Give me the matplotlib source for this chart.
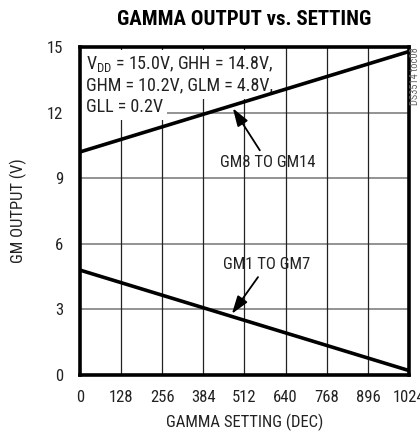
import matplotlib.pyplot as plt
from matplotlib import font_manager

# Gamma output vs setting
setting = [0, 1024]
gm8_to_gm14 = [10.2, 14.8]
gm1_to_gm7 = [4.8, 0.2]
xticks = [0, 128, 256, 384, 512, 640, 768, 896, 1024]
yticks = [0, 3, 6, 9, 12, 15]
cond_lines = ['V$_{\\mathregular{DD}}$ = 15.0V, GHH = 14.8V,',
              'GHM = 10.2V, GLM = 4.8V,',
              'GLL = 0.2V']

names = {f.name for f in font_manager.fontManager.ttflist}
prefs = ['Roboto Condensed', 'Archivo Narrow', 'PT Sans Narrow', 'Liberation Sans Narrow',
         'Fira Sans Condensed', 'IBM Plex Sans Condensed', 'Encode Sans Condensed',
         'Barlow Semi Condensed', 'Open Sans Condensed', 'DejaVu Sans']
fam = next(f for f in prefs if f in names or f == 'DejaVu Sans')
plt.rcParams['font.family'] = [fam, 'DejaVu Sans']
plt.rcParams['font.size'] = 12
plt.rcParams['mathtext.fontset'] = 'custom'
plt.rcParams['mathtext.rm'] = fam

fig = plt.figure(figsize=(4.2, 4.36), dpi=100)
ax = fig.add_axes([0.190, 0.140, 0.784, 0.752])

for y in yticks[1:-1]:
    ax.axhline(y, color='#808080', lw=1.2, zorder=1)
for x in xticks[1:-1]:
    ax.axvline(x, color='#222222', lw=0.9, zorder=1)

ax.plot(setting, gm8_to_gm14, color='black', lw=2.6, zorder=3)
ax.plot(setting, gm1_to_gm7, color='black', lw=2.6, zorder=3)

ax.set_xlim(0, 1024)
ax.set_ylim(0, 15)
ax.set_xticks(xticks)
ax.set_yticks(yticks)
ax.tick_params(axis='x', length=0, pad=11, colors='#222222')
ax.tick_params(axis='y', length=0, pad=12, colors='#222222')
for s in ax.spines.values():
    s.set_linewidth(2.6)
    s.set_color('black')

ax.set_xlabel('GAMMA SETTING (DEC)', labelpad=6, color='#222222')
ax.set_ylabel('GM OUTPUT (V)', labelpad=14, color='#222222')
fig.text(0.582, 0.955, 'GAMMA OUTPUT vs. SETTING', ha='center', va='center',
         fontsize=15, fontweight='bold')

# conditions text, one white box per line
for i, line in enumerate(cond_lines):
    ax.text(18, 13.99 - 0.98 * i, line, va='baseline', ha='left', color='#222222',
            fontsize=13, zorder=2,
            bbox=dict(facecolor='white', edgecolor='none', pad=3))

arrow = dict(arrowstyle='-|>,head_length=0.9,head_width=0.3', color='black', lw=1.3,
             shrinkA=2, shrinkB=0)
ax.annotate('GM8 TO GM14', xy=(476, 12.2), xytext=(585, 9.7), ha='center', va='center',
            color='#222222', arrowprops=arrow, zorder=4)
ax.annotate('GM1 TO GM7', xy=(473, 2.8), xytext=(582, 5.05), ha='center', va='center',
            color='#222222', arrowprops=arrow, zorder=4)

fig.text(0.989, 0.892, 'DS3514 toc08', rotation=90, ha='center', va='top',
         fontsize=7.5, color='#666666')

fig.savefig('out.png', dpi=100)
